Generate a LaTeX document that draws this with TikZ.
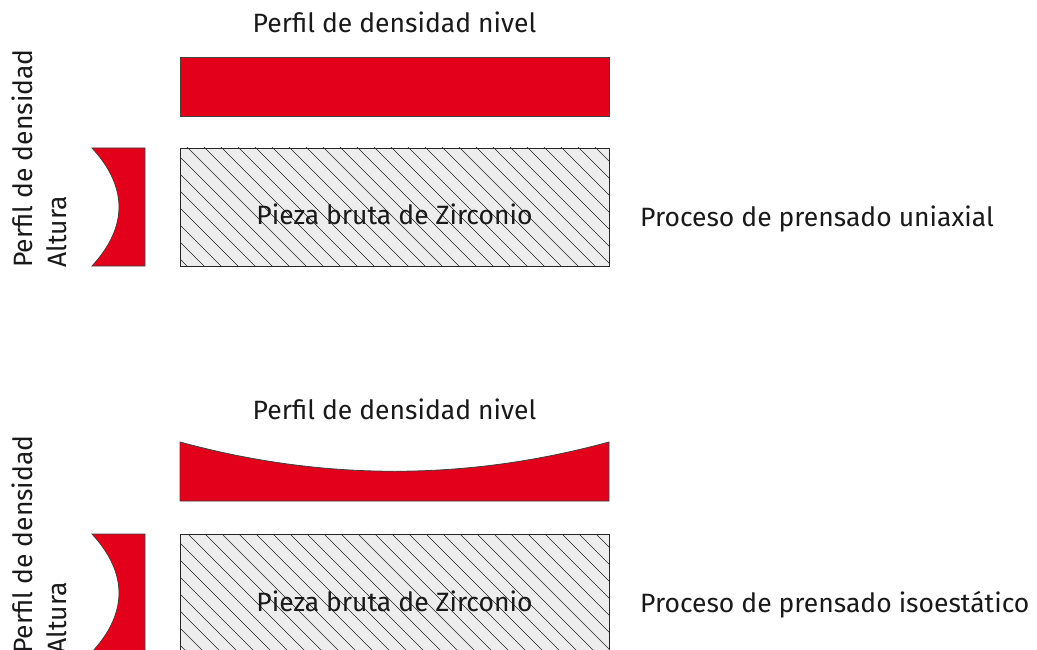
\documentclass[tikz,border=0pt]{standalone}
\usepackage{fontspec}
\setmainfont{Fira Sans}
\definecolor{zred}{HTML}{E2001A}
\definecolor{zgray}{HTML}{ECEDEC}
\begin{document}
\begin{tikzpicture}[x=1pt,y=-1pt,
  redfill/.style={fill=zred, draw=black!75, line width=0.8pt},
  lbl/.style={font=\fontsize{26.5}{30}\selectfont, inner sep=0pt, text=black!90},
  hatchbox/.style={draw=black!85, line width=0.9pt, fill=zgray,
    minimum width=429pt, minimum height=118pt, inner sep=0pt,
    path picture={
      \foreach \i in {0,...,34}
        \draw[black!85, line width=0.6pt]
          ([xshift=-130pt+\i*17pt, yshift=2pt]path picture bounding box.north west)
          -- ++(126pt,-126pt);
    }}]
\useasboundingbox (0,0) rectangle (1037,650);
\clip (0,0) rectangle (1037,650);
% ---------- upper group
\begin{scope}
  \node[lbl, anchor=base] (title1) at (394.5,33) {Perfil de densidad nivel};
  \draw[redfill] (180,57) rectangle (609,116);
  \draw[redfill] (92,148) -- (145,148) -- (145,266) -- (92,266)
     .. controls (128,227) and (128,187) .. (92,148) -- cycle;
  \node[hatchbox] (piece1) at (394.5,207) {};
  \node[lbl, anchor=base] (pieza1) at (394.5,225) {Pieza bruta de Zirconio};
  \node[lbl, anchor=base west] (proc1) at (640,226) {Proceso de prensado uniaxial};
  \node[lbl, rotate=90, anchor=base west] (dens1) at (32,268) {Perfil de densidad};
  \node[lbl, rotate=90, anchor=base west] (alt1) at (66,268) {Altura};
\end{scope}
% ---------- lower group
\begin{scope}[shift={(0,386)}]
  \node[lbl, anchor=base] (title2) at (394.5,33) {Perfil de densidad nivel};
  \draw[redfill] (180,56) .. controls (323,95) and (466,95) .. (609,56)
     -- (609,115) -- (180,115) -- cycle;
  \draw[redfill] (92,148) -- (145,148) -- (145,266) -- (92,266)
     .. controls (128,227) and (128,187) .. (92,148) -- cycle;
  \node[hatchbox] (piece2) at (394.5,207) {};
  \node[lbl, anchor=base] (pieza2) at (394.5,225) {Pieza bruta de Zirconio};
  \node[lbl, anchor=base west] (proc2) at (640,226) {Proceso de prensado isoestático};
  \node[lbl, rotate=90, anchor=base west] (dens2) at (32,268) {Perfil de densidad};
  \node[lbl, rotate=90, anchor=base west] (alt2) at (66,268) {Altura};
\end{scope}
\end{tikzpicture}
\end{document}
